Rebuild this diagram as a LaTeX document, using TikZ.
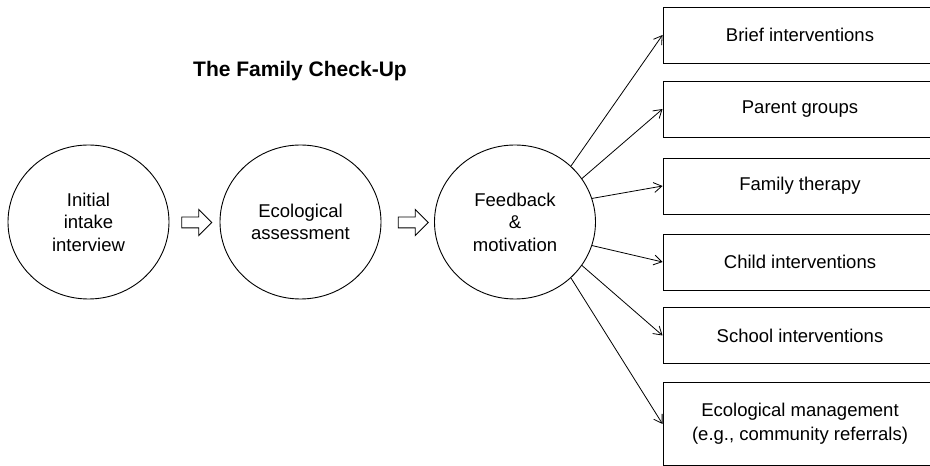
\documentclass[tikz,border=0pt]{standalone}
\usepackage{fontspec}
\setmainfont{Liberation Sans}
\usetikzlibrary{arrows.meta,shapes.geometric,shapes.arrows}
\begin{document}
\begin{tikzpicture}[x=1pt, y=1pt, line width=0.9pt]

      \tikzset{stage/.style={draw, ellipse, inner sep=0pt, minimum width=161pt, minimum height=154pt, align=center, font=\fontsize{18.5}{22.5}\selectfont},
               option/.style={draw, rectangle, inner sep=0pt, minimum width=274pt, minimum height=56pt, align=center, font=\fontsize{18.5}{24}\selectfont},
               hollow/.style={draw, single arrow, inner sep=5pt, minimum height=30pt, minimum width=25pt, single arrow head extend=7.5pt},
               lead/.style={-{Straight Barb[length=8pt, width=10pt]}, line width=0.8pt}}
      \useasboundingbox (0,0) rectangle (930,466);
%% Title
      	\node[font=\fontsize{21}{25}\selectfont\bfseries] (title) at (300,395) {The Family Check-Up};
%% Stages
      	\node[stage] (intake) at (88.5,244) {Initial\\intake\\interview};
      	\node[stage] (assess) at (300.5,244) {Ecological\\assessment};
      	\node[stage] (feedback) at (515,244) {Feedback\\\&\\motivation};
      	\node[hollow] (step1) at (194,243.5) {};
      	\node[hollow] (step2) at (410.5,243.5) {};
%% Interventions
      	\node[option] (brief) at (800,431) {Brief interventions};
      	\node[option] (parent) at (800,357) {Parent groups};
      	\node[option] (family) at (800,280) {Family therapy};
      	\node[option] (child) at (800,204) {Child interventions};
      	\node[option] (school) at (800,130.5) {School interventions};
      	\node[option, minimum height=83pt] (ecomgmt) at (800,42) {Ecological management\\(e.g., community referrals)};
%Edges
		\draw [lead] (feedback.45) -- (brief.west);
		\draw [lead] (feedback.33) -- (parent.west);
		\draw [lead] (feedback.17) -- (family.west);
		\draw [lead] (feedback.-17) -- (child.west);
		\draw [lead] (feedback.-33) -- (school.west);
		\draw [lead] (feedback.-45) -- (ecomgmt.west);

\end{tikzpicture}
\end{document}
